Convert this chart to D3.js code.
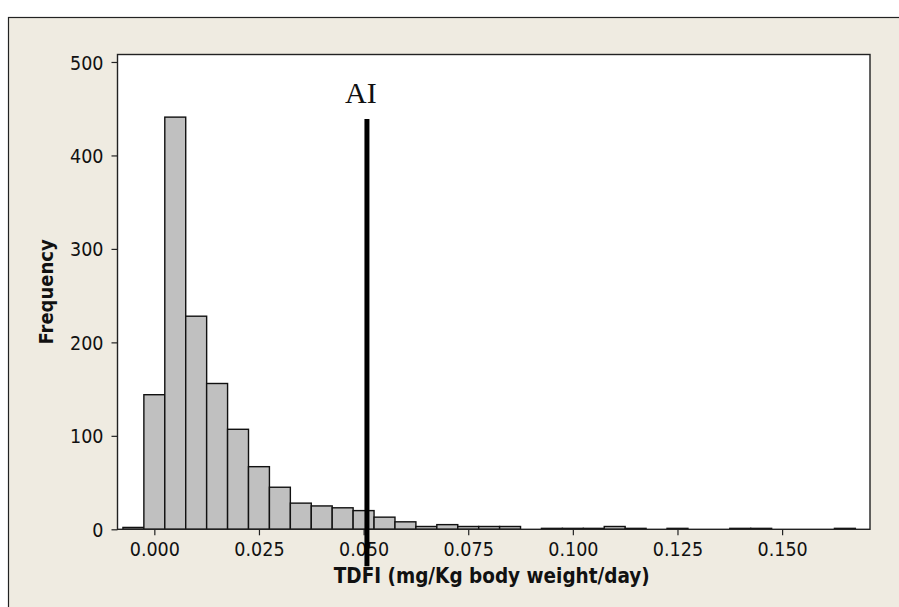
<!DOCTYPE html>
<html>
<head>
<meta charset="utf-8">
<script src="https://cdn.jsdelivr.net/npm/d3@7"></script>
<style>
  body { margin: 0; background: #fff; }
  text { font-family: "DejaVu Sans Condensed", "DejaVu Sans", sans-serif; font-stretch: condensed; }
</style>
</head>
<body>
<svg width="899" height="607"></svg>
<script>
// histogram bins (centre of each bin) and counts
var binCenters = [-0.005, 0.000, 0.005, 0.010, 0.015, 0.020, 0.025, 0.030, 0.035, 0.040,
                  0.045, 0.050, 0.055, 0.060, 0.065, 0.070, 0.075, 0.080, 0.085, 0.090,
                  0.095, 0.100, 0.105, 0.110, 0.115, 0.120, 0.125, 0.130, 0.135, 0.140,
                  0.145, 0.150, 0.155, 0.160, 0.165];
var counts = [2, 144, 441, 228, 156, 107, 67, 45, 28, 25,
              23, 20, 13, 8, 3, 5, 3, 3, 3, 0,
              1, 1, 1, 3, 1, 0, 1, 0, 0, 1,
              1, 0, 0, 0, 1];
var binWidth = 0.005;
var xTicks = [0.000, 0.025, 0.050, 0.075, 0.100, 0.125, 0.150];
var yTicks = [0, 100, 200, 300, 400, 500];
var aiValue = 0.0508, aiTop = 439;

var svg = d3.select("svg");

// outer panel
svg.append("rect")
    .attr("x", 8.5).attr("y", 17.5)
    .attr("width", 900).attr("height", 600)
    .attr("fill", "#efebe1")
    .attr("stroke", "#222")
    .attr("stroke-width", 1.2);

var pLeft = 117.5, pRight = 870, pTop = 54.5, pBottom = 529.3;

var x = d3.scaleLinear().domain([-0.0088, 0.171]).range([pLeft, pRight]);
var y = d3.scaleLinear().domain([0, 508]).range([pBottom, pTop]);

svg.append("rect")
    .attr("x", pLeft).attr("y", pTop)
    .attr("width", pRight - pLeft).attr("height", pBottom - pTop)
    .attr("fill", "#fff");

var bins = binCenters.map(function(c, i) { return { c: c, n: counts[i] }; });

svg.append("g")
    .selectAll("rect")
    .data(bins.filter(function(d) { return d.n > 0; }))
    .enter().append("rect")
    .attr("x", function(d) { return x(d.c - binWidth / 2); })
    .attr("width", function(d) { return x(d.c + binWidth / 2) - x(d.c - binWidth / 2); })
    .attr("y", function(d) { return y(d.n); })
    .attr("height", function(d) { return y(0) - y(d.n); })
    .attr("fill", "#c0c0c0")
    .attr("stroke", "#111")
    .attr("stroke-width", 1.4);

// plot frame
svg.append("rect")
    .attr("x", pLeft).attr("y", pTop)
    .attr("width", pRight - pLeft).attr("height", pBottom - pTop)
    .attr("fill", "none")
    .attr("stroke", "#222")
    .attr("stroke-width", 1.4);

var xAxis = svg.append("g")
    .attr("transform", "translate(0," + pBottom + ")")
    .call(d3.axisBottom(x).tickValues(xTicks).tickFormat(d3.format(".3f")).tickSize(6).tickSizeOuter(0));
xAxis.select(".domain").remove();
xAxis.selectAll("text").attr("font-size", 19.5).attr("fill", "#111").attr("dy", "0.9em");

var yAxis = svg.append("g")
    .attr("transform", "translate(" + pLeft + ",0)")
    .call(d3.axisLeft(y).tickValues(yTicks).tickSize(6).tickSizeOuter(0));
yAxis.select(".domain").remove();
yAxis.selectAll("text").attr("font-size", 19.5).attr("fill", "#111").attr("x", -14).attr("dy", "0.36em");
svg.selectAll(".tick line").attr("stroke", "#222").attr("stroke-width", 1.2);

svg.append("text")
    .attr("x", (pLeft + pRight) / 2 - 2).attr("y", 583)
    .attr("text-anchor", "middle")
    .attr("font-size", 20.5).attr("font-weight", "bold")
    .attr("fill", "#111")
    .text("TDFI (mg/Kg body weight/day)");

svg.append("text")
    .attr("transform", "translate(53," + (pTop + pBottom) / 2 + ") rotate(-90)")
    .attr("text-anchor", "middle")
    .attr("font-size", 20).attr("font-weight", "bold")
    .attr("fill", "#111")
    .text("Frequency");

// AI reference line
svg.append("line")
    .attr("x1", x(aiValue)).attr("x2", x(aiValue))
    .attr("y1", y(aiTop)).attr("y2", pBottom + 37)
    .attr("stroke", "#000")
    .attr("stroke-width", 5);

svg.append("text")
    .attr("x", x(aiValue) - 6).attr("y", 103)
    .attr("text-anchor", "middle")
    .attr("font-size", 30)
    .style("font-family", "'Liberation Serif', 'Times New Roman', serif")
    .style("font-stretch", "normal")
    .attr("fill", "#111")
    .text("AI");
</script>
</body>
</html>
